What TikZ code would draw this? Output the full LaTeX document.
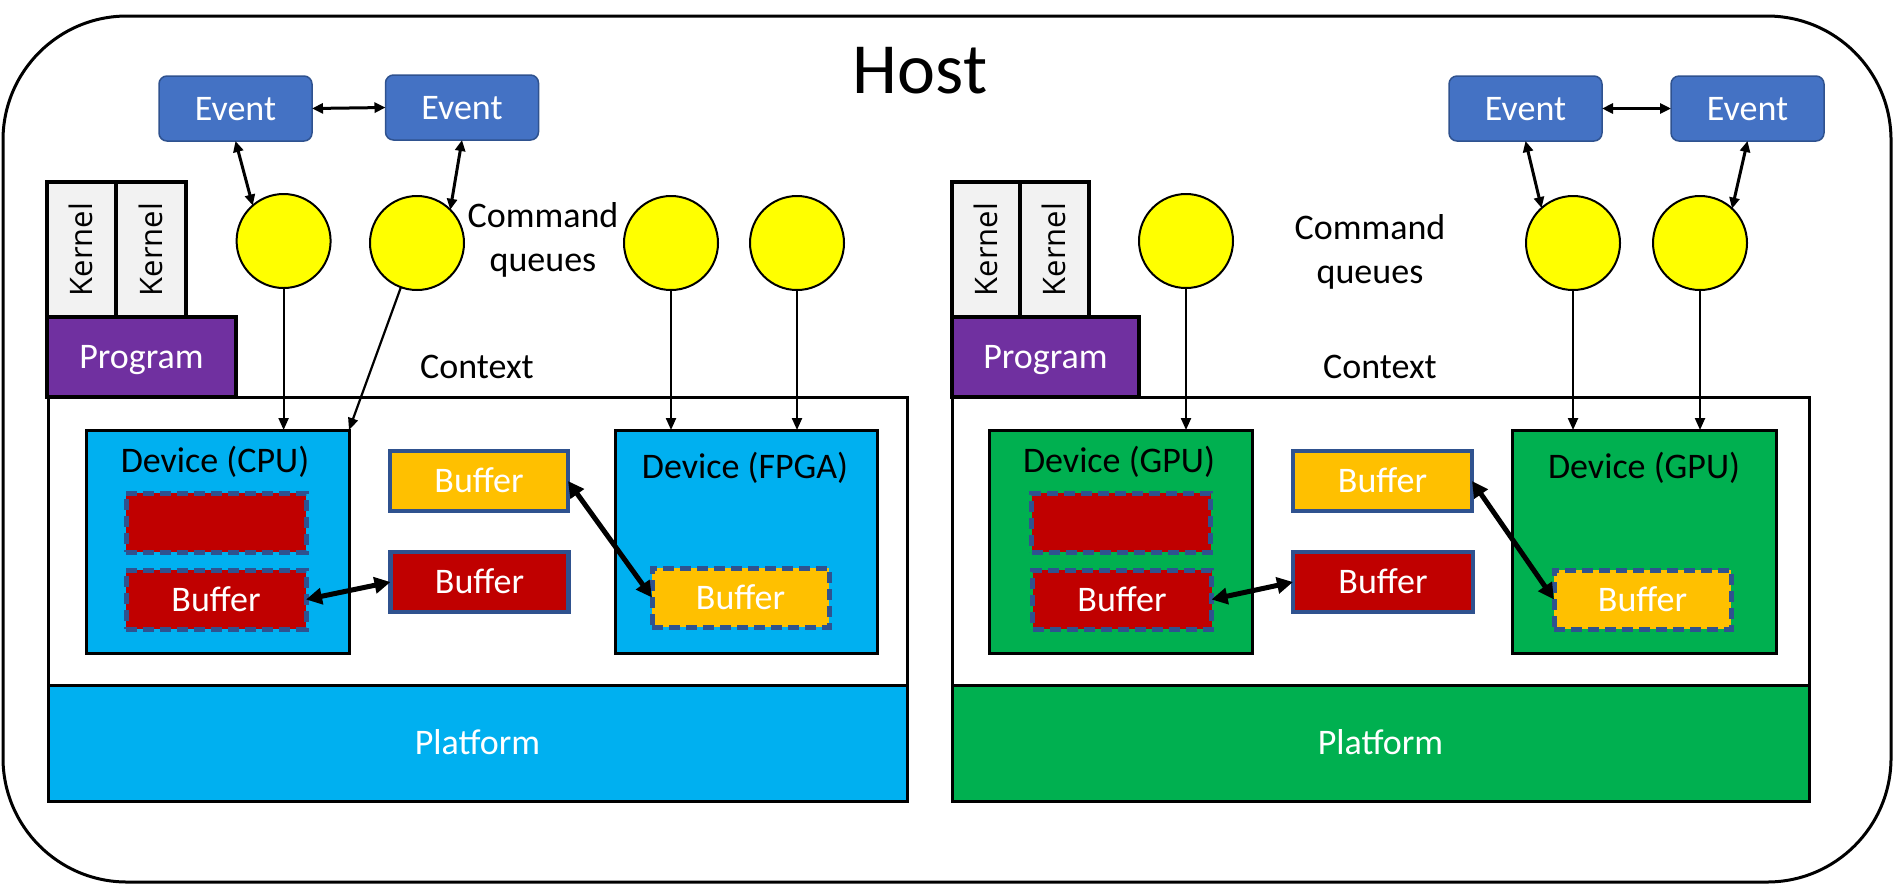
\documentclass[tikz,border=0pt]{standalone}
\usepackage{fontspec}
\setmainfont{Carlito}
\newfontfamily\kfont{Open Sans}
\usetikzlibrary{arrows.meta}
\definecolor{evblue}{HTML}{4472C4}
\definecolor{evborder}{HTML}{2F528F}
\definecolor{cyanb}{HTML}{00B0F0}
\definecolor{greenb}{HTML}{00B050}
\definecolor{purp}{HTML}{7030A0}
\definecolor{kgray}{HTML}{F2F2F2}
\definecolor{ylw}{HTML}{FFFF00}
\definecolor{bufy}{HTML}{FFC000}
\definecolor{bufr}{HTML}{C00000}
\definecolor{bufb}{HTML}{2F528F}
\begin{document}
\begin{tikzpicture}[x=0.5pt,y=-0.5pt,
  every node/.style={inner sep=0pt, outer sep=0pt},
  txt/.style={font=\fontsize{18}{22}\selectfont, text height=11.6pt, text depth=0pt},
  hostbox/.style={draw=black, line width=1.5pt, rounded corners=62pt},
  ctxbox/.style={draw=black, line width=1.5pt, fill=white},
  platbox/.style={draw=black, line width=1.5pt, txt, text=white},
  kbox/.style={draw=black, line width=2pt, fill=kgray},
  klabel/.style={font=\kfont\fontsize{15.5}{19}\selectfont, text height=11.1pt, text depth=0pt, rotate=90},
  progbox/.style={draw=black, line width=2pt, fill=purp, txt, text=white},
  devbox/.style={draw=black, line width=1.5pt},
  sbuf/.style={draw=bufb, line width=2.4pt, txt, text=white},
  dbuf/.style={draw=bufb, line width=2.5pt, dash pattern=on 5.5pt off 3pt, txt, text=white},
  evbox/.style={draw=evborder, line width=0.75pt, fill=evblue, rounded corners=4pt, txt, text=white, minimum width=76.5pt, minimum height=32.5pt},
  cq/.style={circle, draw=black, line width=1pt, fill=ylw, minimum size=47pt},
  cqlabel/.style={font=\fontsize{18}{22}\selectfont, align=center},
  qarr/.style={line width=1.1pt, -{Triangle[length=6pt,width=5pt]}},
  evarr/.style={line width=1.5pt, {Triangle[length=5.5pt,width=5pt]}-{Triangle[length=5.5pt,width=5pt]}},
  barr/.style={line width=2.5pt, {Triangle[length=8pt,width=8pt]}-{Triangle[length=8pt,width=8pt]}},
]
\path[use as bounding box] (0,0) rectangle (1893,885);
\node[hostbox, minimum width=944pt, minimum height=433pt] (host) at (947,449) {};
\node[font=\fontsize{36}{43}\selectfont, anchor=base] (hostlbl) at (920,93) {Host};

% ---------- left platform ----------
\node[ctxbox, minimum width=429.5pt, minimum height=144pt] (ctxL) at (477.5,541) {};
\node[platbox, fill=cyanb, minimum width=429.5pt, minimum height=58pt] (platL) at (477.5,743) {Platform};
\node[kbox, minimum width=34.5pt, minimum height=67.5pt] (k1) at (81.5,249.5) {};
\node[kbox, minimum width=35pt, minimum height=67.5pt] (k2) at (151,249.5) {};
\node[klabel] (k1lbl) at (k1) {Kernel};
\node[klabel] (k2lbl) at (k2) {Kernel};
\node[progbox, minimum width=94.5pt, minimum height=40pt] (progL) at (141.5,357) {Program};
\node[txt] (ctxLlbl) at (477,367) {Context};
\node[cqlabel] (cqL) at (543,239.5) {Command\\queues};

\node[devbox, fill=cyanb, minimum width=131.5pt, minimum height=111.5pt] (cpu) at (217.5,541.5) {};
\node[txt] (cpulbl) at (215,461) {Device (CPU)};
\node[devbox, fill=cyanb, minimum width=131pt, minimum height=111.5pt] (fpga) at (746,541.5) {};
\node[txt] (fpgalbl) at (745,467) {Device (FPGA)};

\node[sbuf, fill=bufy, minimum width=89pt, minimum height=30pt] (ybL) at (479,481) {Buffer};
\node[sbuf, fill=bufr, minimum width=89pt, minimum height=30pt] (rbL) at (479.5,582) {Buffer};
\node[dbuf, fill=bufr, minimum width=90pt, minimum height=29.5pt] (cpuT) at (216,522.5) {};
\node[dbuf, fill=bufr, minimum width=90pt, minimum height=29.5pt] (cpuB) at (216,599.5) {Buffer};
\node[dbuf, fill=bufy, minimum width=88.5pt, minimum height=29.5pt] (fpgaB) at (740.5,597.5) {Buffer};

\node[cq] (c1) at (283.6,241) {};
\node[cq] (c2) at (417,243) {};
\node[cq] (c3) at (671,243) {};
\node[cq] (c4) at (797,243) {};
\node[evbox] (e1) at (235.5,108.5) {Event};
\node[evbox] (e2) at (462,107.5) {Event};

\draw[evarr] (e1.east) -- (e2.west);
\draw[evarr] (e1.south) -- (c1.131);
\draw[evarr] (e2.south) -- (c2.45);
\draw[qarr] (c1.south) -- (c1.south |- cpu.north);
\draw[qarr] (c2.-110) -- (cpu.north east);
\draw[qarr] (c3.south) -- (c3.south |- fpga.north);
\draw[qarr] (c4.south) -- (c4.south |- fpga.north);
\draw[barr] (cpuB.east) -- (rbL.west);
\draw[barr] (ybL.east) -- (fpgaB.west);

% ---------- right platform ----------
\node[ctxbox, minimum width=428.5pt, minimum height=144pt] (ctxR) at (1380.5,541) {};
\node[platbox, fill=greenb, minimum width=428.5pt, minimum height=58pt] (platR) at (1380.5,743) {Platform};
\node[kbox, minimum width=34pt, minimum height=67.5pt] (k3) at (986,249.5) {};
\node[kbox, minimum width=34.5pt, minimum height=67.5pt] (k4) at (1054.5,249.5) {};
\node[klabel] (k3lbl) at (k3) {Kernel};
\node[klabel] (k4lbl) at (k4) {Kernel};
\node[progbox, minimum width=93.5pt, minimum height=40pt] (progR) at (1045.5,357) {Program};
\node[txt] (ctxRlbl) at (1380,367) {Context};
\node[cqlabel] (cqR) at (1370,252) {Command\\queues};

\node[devbox, fill=greenb, minimum width=131.5pt, minimum height=111.5pt] (gpu1) at (1120.5,541.5) {};
\node[txt] (gpu1lbl) at (1119,461) {Device (GPU)};
\node[devbox, fill=greenb, minimum width=132pt, minimum height=111.5pt] (gpu2) at (1644,541.5) {};
\node[txt] (gpu2lbl) at (1644,467) {Device (GPU)};

\node[sbuf, fill=bufy, minimum width=89.5pt, minimum height=30pt] (ybR) at (1382.5,481) {Buffer};
\node[sbuf, fill=bufr, minimum width=90pt, minimum height=30pt] (rbR) at (1383,582) {Buffer};
\node[dbuf, fill=bufr, minimum width=89.5pt, minimum height=29.5pt] (g1T) at (1121,522.5) {};
\node[dbuf, fill=bufr, minimum width=89.5pt, minimum height=29.5pt] (g1B) at (1122,599.5) {Buffer};
\node[dbuf, fill=bufy, minimum width=88.5pt, minimum height=29.5pt] (g2B) at (1642.5,599.5) {Buffer};

\node[cq] (c5) at (1186,241) {};
\node[cq] (c6) at (1573,243) {};
\node[cq] (c7) at (1700,243) {};
\node[evbox] (e3) at (1525.5,108.5) {Event};
\node[evbox] (e4) at (1747.5,108.5) {Event};

\draw[evarr] (e3.east) -- (e4.west);
\draw[evarr] (e3.south) -- (c6.132);
\draw[evarr] (e4.south) -- (c7.47);
\draw[qarr] (c5.south) -- (c5.south |- gpu1.north);
\draw[qarr] (c6.south) -- (c6.south |- gpu2.north);
\draw[qarr] (c7.south) -- (c7.south |- gpu2.north);
\draw[barr] (g1B.east) -- (rbR.west);
\draw[barr] (ybR.east) -- (g2B.west);
\end{tikzpicture}
\end{document}
